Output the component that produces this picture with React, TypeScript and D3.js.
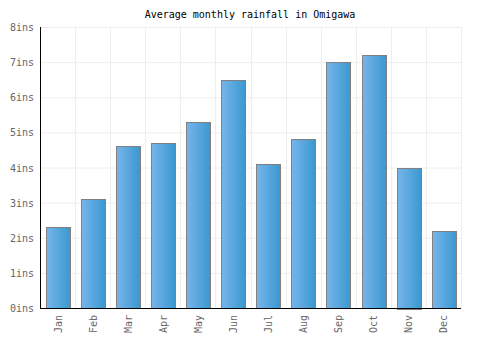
import React from "react";
import * as d3 from "d3";

const months = ["Jan","Feb","Mar","Apr","May","Jun","Jul","Aug","Sep","Oct","Nov","Dec"];
const rainfall = [2.3, 3.1, 4.6, 4.7, 5.3, 6.5, 4.1, 4.8, 7.0, 7.2, 4.0, 2.2];
const yTicks = [0, 1, 2, 3, 4, 5, 6, 7, 8];
const title = "Average monthly rainfall in Omigawa";

export default function App() {
  const W = 500, H = 350;
  const left = 40, right = 461, top = 27, bottom = 308;
  const x = d3.scaleBand<string>().domain(months).range([left, right]).paddingInner(0.33).paddingOuter(0.165);
  const xg = d3.scaleBand<string>().domain(months).range([left, right]);
  const y = d3.scaleLinear().domain([0, 8]).range([bottom, top]);
  const font = "'DejaVu Sans Mono', monospace";
  return (
    <svg width={W} height={H} style={{ position: "absolute", left: 0, top: 0 }}>
      <defs>
        <linearGradient id="barGrad" x1="0" x2="1" y1="0" y2="0">
          <stop offset="0%" stopColor="#76b5eb" />
          <stop offset="100%" stopColor="#3a98cf" />
        </linearGradient>
      </defs>
      <rect width={W} height={H} fill="#fff" />
      <text x={250} y={18} textAnchor="middle" fontFamily={font} fontSize={10} fill="#000">{title}</text>
      {yTicks.map(t => (
        <line key={"h" + t} x1={left} x2={right} y1={y(t) + 0.5} y2={y(t) + 0.5} stroke="#eeeeee" />
      ))}
      {months.map((m) => (
        <line key={"v" + m} x1={Math.round(xg(m)! + xg.bandwidth()) + 0.5} x2={Math.round(xg(m)! + xg.bandwidth()) + 0.5} y1={top} y2={bottom} stroke="#eeeeee" />
      ))}
      {months.map((m, i) => (
        <rect key={m} x={Math.round(x(m)!) + 0.5} y={Math.round(y(rainfall[i])) + 0.5}
          width={Math.round(x.bandwidth())} height={Math.round(bottom - y(rainfall[i]))}
          fill="url(#barGrad)" stroke="#808080" strokeWidth={1} />
      ))}
      <line x1={left + 0.5} x2={left + 0.5} y1={top} y2={bottom + 1} stroke="#000" />
      <line x1={left} x2={right} y1={bottom + 0.5} y2={bottom + 0.5} stroke="#000" />
      {yTicks.map(t => (
        <text key={"yl" + t} x={34} y={y(t) + 4} textAnchor="end" fontFamily={font} fontSize={10} fill="#666">{t}ins</text>
      ))}
      {months.map(m => {
        const cx = x(m)! + x.bandwidth() / 2;
        return (
          <text key={"xl" + m} transform={`translate(${cx + 4},${315}) rotate(-90)`} textAnchor="end"
            fontFamily={font} fontSize={10} fill="#666">{m}</text>
        );
      })}
    </svg>
  );
}
